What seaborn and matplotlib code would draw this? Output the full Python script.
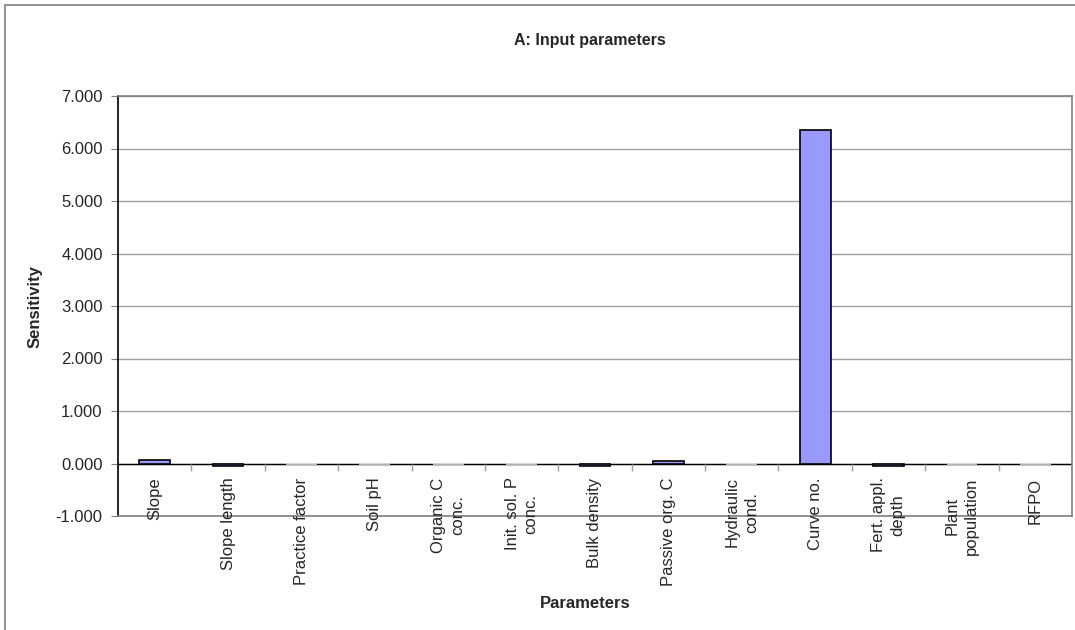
import matplotlib
matplotlib.use('Agg')
import matplotlib.pyplot as plt
import matplotlib.ticker as mticker
from matplotlib.patches import Rectangle
import seaborn as sns
import pandas as pd

# Datos
parametros = ['Slope', 'Slope length', 'Practice factor', 'Soil pH', 'Organic C\nconc.',
              'Init. sol. P\nconc.', 'Bulk density', 'Passive org. C', 'Hydraulic\ncond.',
              'Curve no.', 'Fert. appl.\ndepth', 'Plant\npopulation', 'RFPO']
sensibilidad = [0.06, -0.05, 0.0, 0.0, 0.0, 0.0, -0.04, 0.04, 0.0, 6.35, -0.05, 0.0, 0.0]
y_ticks = [-1, 0, 1, 2, 3, 4, 5, 6, 7]

sns.set_style('white')
plt.rcParams['font.family'] = ['Liberation Sans', 'DejaVu Sans']

df = pd.DataFrame({'param': parametros, 'sens': sensibilidad})

fig = plt.figure(figsize=(10.75, 6.3), dpi=100)
ax = fig.add_axes([118 / 1075, 1 - 516 / 630, (1072 - 118) / 1075, (516 - 96) / 630])

# borde exterior del grafico
fig.patches.append(Rectangle((5 / 1075, -0.1), 1.2, 1 - 5 / 630 + 0.1, transform=fig.transFigure,
                             fill=False, edgecolor='#808080', linewidth=1.2))

sns.barplot(data=df, x='param', y='sens', color='#9999FF', saturation=1,
            edgecolor='black', linewidth=1.2, width=0.42, ax=ax, zorder=3)

# barras en cero se ven como una linea gris clara
for p, v in zip(ax.patches, sensibilidad):
    if v == 0:
        p.set_edgecolor('#d9d9d9')

ax.set_ylim(-1, 7)
ax.set_xlim(-0.5, len(parametros) - 0.5)
ax.set_yticks(y_ticks)
ax.yaxis.set_major_formatter(mticker.FormatStrFormatter('%.3f'))
ax.grid(axis='y', color='#a0a0a0', linewidth=1, zorder=0)
ax.axhline(0, color='black', linewidth=1, zorder=2)

# marcas en los limites de categoria sobre la linea del cero
limites = [i + 0.5 for i in range(len(parametros) - 1)]
ax.plot(limites, [0] * len(limites), linestyle='none', marker=3, markersize=5,
        color='#a0a0a0', zorder=2)

# etiquetas de categoria junto al eje cero
ax.set_xticks([])
for i, nombre in enumerate(parametros):
    ax.annotate(nombre, xy=(i, 0), xytext=(0, -10), textcoords='offset points',
                rotation=90, ha='center', va='top', multialignment='center',
                fontsize=12, linespacing=1.35, annotation_clip=False)

for lado in ['top', 'right', 'bottom']:
    ax.spines[lado].set_color('#808080')
    ax.spines[lado].set_linewidth(1.2)
ax.spines['left'].set_color('black')
ax.spines['left'].set_linewidth(1.2)

ax.tick_params(axis='y', length=5, color='#808080', labelsize=12, pad=6, left=True)
ax.set_xlabel('')
ax.set_ylabel('')

fig.text(590 / 1075, 1 - 40 / 630, 'A: Input parameters', ha='center', va='center',
         fontsize=11.5, fontweight='bold')
fig.text(35 / 1075, 1 - 307 / 630, 'Sensitivity', ha='center', va='center',
         rotation=90, fontsize=12, fontweight='bold')
fig.text(585 / 1075, 1 - 604 / 630, 'Parameters', ha='center', va='center',
         fontsize=12, fontweight='bold')

plt.savefig('out.png', dpi=100)
plt.close()
